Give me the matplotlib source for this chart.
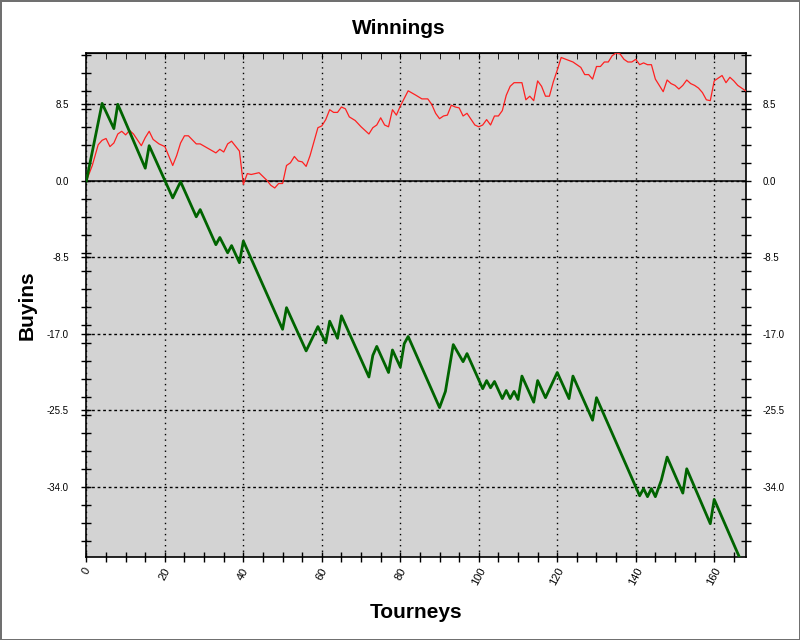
#!/usr/bin/env python3
"""Winnings chart: two buyin curves over tourneys, JFreeChart-like look."""
import matplotlib
matplotlib.use("Agg")
import matplotlib.pyplot as plt
from matplotlib.ticker import MultipleLocator, FormatStrFormatter

plt.rcParams["font.family"] = ["Liberation Sans", "DejaVu Sans"]

# red thin curve (vertices)
RED_X = [0, 1.5, 3, 4, 5, 6, 7, 8, 9, 10, 11, 12, 14, 15, 16, 17, 18.5, 20,
         22, 23, 24, 25, 26, 28, 29, 33, 34, 35, 36, 37, 39, 40, 41, 42, 44,
         46, 47, 48, 49, 50, 51, 52, 53, 54, 55, 56, 57, 59, 60, 61, 62, 63,
         64, 65, 66, 67, 68.5, 70, 72, 73, 74, 75, 76, 77, 78, 79, 80, 82, 84,
         85.5, 87, 88, 89, 90, 91, 92, 93, 94, 95, 96, 97, 99, 100, 101, 102,
         103, 104, 105, 106, 107, 108, 109, 111, 112, 113, 114, 115, 116, 117,
         118, 119, 120, 121, 124, 126, 127, 128, 129, 130, 131, 132, 133, 134,
         135, 136, 137, 138, 139, 140, 141, 142, 143, 144, 145, 147, 148, 149,
         150, 151, 152, 153, 154, 155, 156, 157, 158, 159, 160, 161, 162, 163,
         164, 165, 166, 167, 168]
RED_Y = [0.0, 1.7, 4.0, 4.5, 4.7, 3.8, 4.2, 5.2, 5.5, 5.1, 5.6, 5.2, 3.9, 4.8,
         5.5, 4.6, 4.1, 3.8, 1.7, 2.8, 4.2, 5.0, 5.0, 4.1, 4.1, 3.1, 3.5, 3.2,
         4.1, 4.4, 3.3, -0.4, 0.8, 0.7, 0.9, 0.05, -0.5, -0.8, -0.3, -0.3, 1.7,
         2.0, 2.7, 2.2, 2.1, 1.6, 2.8, 5.9, 6.1, 6.8, 7.9, 7.6, 7.6, 8.2, 8.0,
         7.1, 6.7, 6.0, 5.2, 5.9, 6.2, 7.0, 6.2, 6.0, 7.9, 7.3, 8.3, 10.0, 9.5,
         9.1, 9.1, 8.5, 7.5, 6.9, 7.2, 7.3, 8.4, 8.2, 8.1, 7.2, 7.5, 6.2, 6.0,
         6.2, 6.8, 6.2, 7.2, 7.2, 7.8, 9.5, 10.5, 10.9, 10.9, 9.0, 9.4, 8.9,
         11.1, 10.5, 9.4, 9.4, 11.0, 12.3, 13.7, 13.2, 12.6, 11.8, 11.8, 11.3,
         12.7, 12.7, 13.2, 13.2, 13.9, 14.2, 14.1, 13.5, 13.2, 13.2, 13.5, 12.9,
         13.1, 12.9, 12.9, 11.3, 9.9, 11.2, 10.8, 10.6, 10.2, 10.6, 11.2, 10.8,
         10.6, 10.3, 9.8, 9.0, 8.9, 11.1, 11.4, 11.7, 10.9, 11.5, 11.1, 10.6,
         10.3, 10.0]

# green thick curve (vertices)
GREEN_X = [0, 4, 7, 8, 15, 16, 22, 24, 28, 29, 33, 34, 36, 37, 39, 40, 50, 51,
           56, 59, 61, 62, 64, 65, 72, 73, 74, 77, 78, 80, 81, 82, 90, 91.5,
           93.5, 96, 97, 101, 102, 103, 104, 106, 107, 108, 109, 110, 111, 114,
           115, 117, 120, 123, 124, 129, 130, 141, 142, 143, 144, 145, 146.5,
           148, 152, 153, 159, 160, 167]
GREEN_Y = [0.0, 8.6, 5.8, 8.5, 1.4, 3.9, -1.9, -0.1, -4.0, -3.2, -7.1, -6.3,
           -8.0, -7.2, -9.1, -6.7, -16.5, -14.1, -18.9, -16.2, -18.0, -15.6,
           -17.5, -15.0, -21.8, -19.4, -18.4, -21.3, -18.8, -20.7, -18.1, -17.3,
           -25.2, -23.4, -18.2, -20.1, -19.2, -23.1, -22.2, -23.0, -22.3, -24.2,
           -23.3, -24.2, -23.4, -24.3, -21.7, -24.6, -22.2, -24.1, -21.3, -24.2,
           -21.7, -26.6, -24.1, -35.0, -34.2, -35.1, -34.2, -35.1, -33.3, -30.7,
           -34.7, -32.0, -38.1, -35.4, -42.4]

X_RANGE = (0, 168)
Y_RANGE = (-41.8, 14.2)


def main():
    fig = plt.figure(figsize=(8, 6.4), dpi=100)
    fig.patch.set_facecolor("white")
    fig.patch.set_edgecolor("#707070")
    fig.patch.set_linewidth(2)

    ax = fig.add_axes([0.108, 0.1297, 0.824, 0.7875])
    ax.set_facecolor("#d3d3d3")
    ax.set_xlim(*X_RANGE)
    ax.set_ylim(*Y_RANGE)

    ax.xaxis.set_major_locator(MultipleLocator(20))
    ax.xaxis.set_minor_locator(MultipleLocator(5))
    ax.yaxis.set_major_locator(MultipleLocator(8.5))
    ax.yaxis.set_minor_locator(MultipleLocator(2))
    ax.yaxis.set_major_formatter(FormatStrFormatter("%.1f"))

    ax.xaxis.grid(True, which="major", color="black", linestyle=(0, (1, 3)), lw=1)
    ax.yaxis.grid(True, which="major", color="black", linestyle=(0, (2, 2)), lw=1)
    ax.set_axisbelow(True)
    ax.axhline(0, color="black", lw=1.1, zorder=2)

    ax.plot(RED_X, RED_Y, color="#ff2020", lw=0.9, zorder=3)
    ax.plot(GREEN_X, GREEN_Y, color="#006400", lw=2.0, zorder=4)

    ax.tick_params(axis="both", which="both", direction="inout", length=7,
                   width=1, labelsize=7)
    ax.tick_params(axis="y", which="both", right=True, labelright=True, pad=9)
    ax.tick_params(axis="x", which="both", pad=3, labelrotation=62, labelsize=8)
    for lbl in ax.get_xticklabels():
        lbl.set_horizontalalignment("center")

    top = ax.secondary_xaxis("top")
    top.xaxis.set_major_locator(MultipleLocator(20))
    top.xaxis.set_minor_locator(MultipleLocator(5))
    top.tick_params(axis="x", which="both", direction="in", length=4,
                    labeltop=False)

    for s in ax.spines.values():
        s.set_linewidth(1.2)

    fig.text(399 / 800, 1 - 28 / 640, "Winnings", ha="center", va="center",
             fontsize=15, fontweight="bold")
    fig.text(416 / 800, 1 - 612 / 640, "Tourneys", ha="center", va="center",
             fontsize=15, fontweight="bold")
    fig.text(27 / 800, 1 - 305 / 640, "Buyins", ha="center", va="center",
             rotation=90, fontsize=15, fontweight="bold")

    fig.savefig("out.png", dpi=100, facecolor=fig.get_facecolor(),
                edgecolor=fig.get_edgecolor())
    plt.close(fig)


if __name__ == "__main__":
    main()
